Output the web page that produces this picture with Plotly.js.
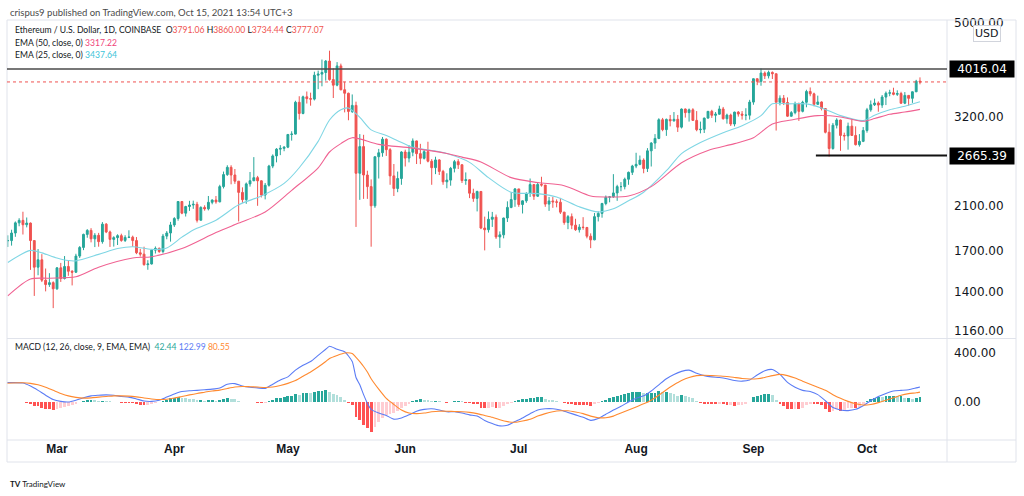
<!DOCTYPE html>
<html><head><meta charset="utf-8">
<script src="https://cdn.plot.ly/plotly-3.0.1.min.js"></script>
<style>html,body{margin:0;padding:0;background:#fff;}#chart{width:1024px;height:496px;}</style>
</head><body><div id="chart"></div>
<script>
// ---- Daily candles, ETH/USD (Coinbase), first bar 2021-02-14 ----
const firstDay = '2021-02-14';
const openP = [
1815,1800,1780,1781,1846,1937,1960,1920,1935,1781,1570,1626,1476,1446,1459,
1417,1565,1488,1575,1540,1533,1655,1724,1834,1869,1796,1826,1772,1925,1855,1791,1806,1823,1782,1808,1810,1781,1681,1670,1589,1594,1702,1716,1691,1819,1846,
1918,1977,2143,2028,2093,2108,2115,1961,2084,2070,2135,2158,2140,2300,2435,2520,2430,2360,2238,2162,2330,2365,2400,2364,2210,2315,2535,2660,2747,2757,
2773,2945,2950,3430,3253,3520,3490,3482,3900,3920,3950,4170,3820,3720,4075,3640,3580,3285,3380,2450,2780,2430,2300,2100,2650,2700,2880,2740,2420,2280,2390,
2710,2633,2707,2856,2689,2630,2714,2594,2516,2610,2472,2353,2372,2508,2589,2551,2367,2376,2229,2175,2248,1890,1875,1970,1990,1812,1830,1982,2084,2163,
2275,2113,2150,2226,2322,2198,2324,2317,2117,2149,2140,2136,2038,1940,1995,1916,1875,1898,1895,1818,1787,1995,2026,2123,2187,2191,2232,2300,2300,2382,2461,
2535,2556,2608,2506,2725,2827,2890,3158,3013,3163,3141,3164,3049,3322,3266,3310,3148,3012,3018,3182,3286,3225,3242,3323,3173,3228,3094,3274,3244,3226,3227,
3433,3835,3788,3940,3888,3952,3927,3430,3497,3427,3211,3266,3410,3286,3430,3610,3570,3397,3435,3330,2976,2755,3077,3154,2931,2925,3063,2931,2806,2850,
3001,3310,3390,3418,3385,3516,3580,3588,3562,3575,3415,3544,3495,3605,3791.06];
const highP = [
1838,1825,1826,1875,1950,1980,2042,1987,1940,1781,1711,1670,1560,1526,1468,
1571,1602,1655,1622,1548,1673,1735,1840,1880,1889,1845,1847,1944,1935,1867,1818,1835,1840,1827,1870,1823,1811,1713,1730,1623,1711,1732,1724,1838,1863,1946,
1990,2145,2145,2100,2150,2152,2140,2095,2105,2200,2165,2200,2320,2470,2545,2545,2500,2360,2292,2345,2465,2645,2420,2370,2340,2550,2680,2760,2800,2785,
2950,2990,3455,3530,3540,3610,3590,3965,3985,4200,4190,4380,4030,4150,4120,3780,3590,3560,3440,2950,2940,2480,2380,2650,2750,2910,2890,2760,2560,2470,2720,
2740,2800,2890,2860,2817,2743,2845,2620,2650,2620,2490,2450,2525,2610,2620,2556,2460,2380,2277,2255,2250,1995,2045,2040,2015,1860,1985,2145,2240,2285,
2275,2155,2240,2390,2323,2350,2410,2318,2190,2190,2165,2180,2040,2010,2025,1975,1925,1990,1900,1843,2030,2045,2130,2205,2200,2440,2320,2350,2400,2470,2550,
2700,2665,2630,2760,2840,2950,3180,3185,3175,3230,3275,3230,3330,3330,3330,3335,3290,3130,3190,3290,3310,3275,3375,3355,3250,3250,3280,3290,3290,3335,3470,
3840,3840,4027,3970,3985,3970,3927,3545,3550,3510,3290,3440,3425,3455,3640,3680,3590,3540,3445,3330,3100,3110,3180,3160,2970,3115,3165,3060,2950,3050,
3340,3460,3490,3445,3550,3610,3640,3675,3630,3605,3600,3545,3610,3815,3860];
const lowP = [
1760,1658,1728,1739,1813,1906,1833,1896,1550,1370,1511,1463,1400,1430,1293,
1410,1464,1481,1507,1440,1528,1640,1702,1805,1766,1727,1730,1755,1845,1728,1731,1744,1771,1769,1802,1730,1670,1651,1581,1551,1590,1675,1680,1676,1792,1772,
1900,1957,2018,1996,2050,2070,1940,1960,2052,2055,2115,2121,2135,2280,2420,2325,2330,1950,2130,2120,2300,2360,2100,2185,2165,2300,2510,2580,2670,2720,
2760,2860,2945,3160,3240,3410,3375,3460,3650,3700,3800,3800,3500,3700,3630,3270,3150,3260,1900,2160,2170,2170,1730,2080,2390,2650,2660,2320,2200,2240,2320,
2530,2580,2656,2560,2558,2616,2580,2320,2440,2430,2320,2282,2310,2460,2500,2340,2320,2178,2140,2045,1880,1700,1850,1900,1795,1720,1800,1945,2076,2090,
2090,2025,2130,2190,2160,2190,2300,2090,2050,2080,2085,2020,1920,1880,1880,1865,1850,1875,1800,1718,1784,1950,1985,2105,2135,2180,2150,2250,2270,2320,2430,
2510,2545,2450,2465,2530,2750,2880,2990,2925,3060,3130,2980,3030,3190,3130,3145,2990,2960,2965,3175,3185,3120,3235,3160,3100,3065,3060,3205,3160,3150,3160,
3390,3720,3710,3830,3840,3830,3000,3380,3385,3200,3205,3240,3140,3270,3350,3530,3365,3385,3300,2960,2652,2740,3030,2725,2860,2740,2925,2795,2780,2840,
2970,3280,3370,3280,3340,3385,3530,3545,3535,3405,3400,3375,3420,3600,3734.44];
const closeP = [
1800,1780,1781,1846,1937,1960,1920,1935,1781,1570,1626,1476,1446,1459,1417,
1565,1488,1575,1540,1533,1655,1724,1834,1869,1796,1826,1772,1925,1855,1791,1806,1823,1782,1808,1810,1781,1681,1670,1589,1594,1702,1716,1691,1819,1846,1918,
1977,2143,2028,2093,2108,2115,1961,2084,2070,2135,2158,2140,2300,2435,2520,2430,2360,2238,2162,2330,2365,2400,2364,2210,2315,2535,2660,2747,2757,2773,
2945,2950,3430,3253,3520,3490,3482,3900,3920,3950,4170,3820,3720,4075,3640,3580,3285,3380,2450,2780,2430,2300,2100,2650,2700,2880,2740,2420,2280,2390,2710,
2633,2707,2856,2689,2630,2714,2594,2516,2610,2472,2353,2372,2508,2589,2551,2367,2376,2229,2175,2248,1890,1875,1970,1990,1812,1830,1982,2084,2163,2275,
2113,2150,2226,2322,2198,2324,2317,2117,2149,2140,2136,2038,1940,1995,1916,1875,1898,1895,1818,1787,1995,2026,2123,2187,2191,2232,2300,2300,2382,2461,2535,
2556,2608,2506,2725,2827,2890,3158,3013,3163,3141,3164,3049,3322,3266,3310,3148,3012,3018,3182,3286,3225,3242,3323,3173,3228,3094,3274,3244,3226,3227,3433,
3835,3788,3940,3888,3952,3927,3430,3497,3427,3211,3266,3410,3286,3430,3610,3570,3397,3435,3330,2976,2755,3077,3154,2931,2925,3063,2931,2806,2850,3001,
3310,3390,3418,3385,3516,3580,3588,3562,3575,3415,3544,3495,3605,3790,3777.07];

// ---- MACD histogram, one value per bar ----
const macdHist = [
10,5,0,0,2,2,-3,-5,-15,-30,-35,-50,-55,-60,-62,
-55,-50,-40,-35,-25,-15,0,10,15,18,15,12,12,8,5,2,-2,-5,-7,-10,-12,-18,-22,-25,-22,-15,-8,0,10,20,30,
35,40,35,32,28,25,15,15,12,13,13,12,18,25,30,28,22,12,3,2,0,-2,-5,-10,-5,10,20,30,35,38,
45,45,65,60,70,72,70,85,90,90,95,85,65,60,40,20,-5,-25,-120,-150,-190,-215,-245,-200,-165,-130,-110,-100,-90,-70,-45,
-30,-15,5,15,25,20,15,10,12,5,-2,-5,2,8,10,5,-5,-10,-18,-20,-45,-50,-45,-40,-48,-45,-32,-20,-8,8,
15,22,28,35,35,40,40,25,20,15,10,0,-12,-15,-20,-25,-25,-25,-27,-30,-20,-10,5,20,30,40,50,55,62,70,78,
78,80,70,72,75,75,90,80,80,70,62,48,55,45,42,30,10,-5,-15,-15,-18,-20,-18,-20,-28,-25,-35,-25,-22,-20,0,
40,50,60,65,68,60,15,-15,-35,-55,-60,-55,-55,-45,-25,-15,-20,-20,-25,-55,-80,-70,-60,-70,-62,-50,-48,-50,-40,-20,
10,25,35,40,38,45,48,48,45,45,30,35,28,32,42.44];

// ---- EMA lines, read at sample dates ----
const ema25Dates = ['2021-02-16','2021-02-22','2021-02-25','2021-03-01','2021-03-04','2021-03-06','2021-03-12','2021-03-17','2021-03-21','2021-03-26','2021-03-30',
'2021-04-03','2021-04-06','2021-04-12','2021-04-18','2021-04-24','2021-04-30','2021-05-04','2021-05-09','2021-05-12','2021-05-15','2021-05-17','2021-05-20','2021-05-23','2021-05-27','2021-05-30',
'2021-06-03','2021-06-08','2021-06-12','2021-06-18','2021-06-23','2021-06-29','2021-07-06','2021-07-11','2021-07-17','2021-07-22','2021-07-26','2021-07-30',
'2021-08-03','2021-08-09','2021-08-13','2021-08-18','2021-08-24','2021-08-29','2021-09-03','2021-09-06','2021-09-10','2021-09-15','2021-09-19','2021-09-24','2021-09-30',
'2021-10-03','2021-10-07','2021-10-11','2021-10-15'];
const ema25 = [1605,1700,1680,1640,1620,1618,1668,1715,1730,1708,1720,
1810,1873,1962,2110,2200,2335,2515,2850,3154,3310,3338,3193,3010,2930,2860,
2770,2730,2690,2580,2400,2240,2225,2190,2090,2040,2070,2150,
2240,2480,2690,2835,2970,3070,3220,3405,3405,3405,3340,3220,3145,
3225,3310,3365,3437.64];
const ema50Dates = ['2021-02-16','2021-02-22','2021-02-27','2021-03-06','2021-03-12','2021-03-21','2021-03-26','2021-04-03','2021-04-12','2021-04-18','2021-04-25',
'2021-05-02','2021-05-09','2021-05-12','2021-05-15','2021-05-18','2021-05-25','2021-06-03','2021-06-12','2021-06-16','2021-06-21','2021-06-29',
'2021-07-06','2021-07-13','2021-07-20','2021-07-24','2021-07-30','2021-08-05','2021-08-13','2021-08-20','2021-08-27',
'2021-09-01','2021-09-06','2021-09-11','2021-09-18','2021-09-24','2021-09-30','2021-10-03','2021-10-07','2021-10-11','2021-10-15'];
const ema50 = [1370,1484,1490,1500,1570,1640,1650,1715,1850,1935,2040,
2260,2515,2710,2820,2900,2810,2760,2690,2645,2585,2400,
2345,2310,2200,2190,2200,2300,2575,2730,2820,
2900,3095,3155,3220,3200,3135,3175,3240,3275,3317.22];

// ---- MACD and signal lines, read at sample dates ----
const macdDates = ['2021-02-14','2021-02-17','2021-02-20','2021-02-22','2021-02-24','2021-02-26','2021-02-28',
'2021-03-02','2021-03-04','2021-03-06','2021-03-08','2021-03-10','2021-03-12','2021-03-14','2021-03-16','2021-03-18','2021-03-20','2021-03-22','2021-03-24','2021-03-26','2021-03-28','2021-03-30',
'2021-04-01','2021-04-03','2021-04-05','2021-04-07','2021-04-09','2021-04-11','2021-04-13','2021-04-15','2021-04-17','2021-04-19','2021-04-21','2021-04-23','2021-04-25','2021-04-27','2021-04-29',
'2021-05-01','2021-05-03','2021-05-05','2021-05-07','2021-05-09','2021-05-11','2021-05-12','2021-05-14','2021-05-16','2021-05-18','2021-05-19','2021-05-20','2021-05-21','2021-05-22','2021-05-23','2021-05-25','2021-05-27','2021-05-29','2021-05-31',
'2021-06-02','2021-06-04','2021-06-06','2021-06-08','2021-06-10','2021-06-12','2021-06-14','2021-06-16','2021-06-18','2021-06-20','2021-06-22','2021-06-24','2021-06-26','2021-06-28','2021-06-30',
'2021-07-02','2021-07-04','2021-07-06','2021-07-08','2021-07-10','2021-07-12','2021-07-14','2021-07-16','2021-07-18','2021-07-20','2021-07-22','2021-07-24','2021-07-26','2021-07-28','2021-07-30',
'2021-08-01','2021-08-03','2021-08-05','2021-08-07','2021-08-09','2021-08-11','2021-08-13','2021-08-15','2021-08-17','2021-08-19','2021-08-21','2021-08-23','2021-08-25','2021-08-27','2021-08-29','2021-08-31',
'2021-09-02','2021-09-04','2021-09-06','2021-09-08','2021-09-10','2021-09-12','2021-09-14','2021-09-16','2021-09-18','2021-09-20','2021-09-22','2021-09-24','2021-09-26','2021-09-28','2021-09-30',
'2021-10-02','2021-10-04','2021-10-06','2021-10-08','2021-10-10','2021-10-12','2021-10-14','2021-10-15'];
const macdLine = [160,158,155,130,95,55,20,
5,0,15,35,50,55,58,55,45,40,25,8,5,15,40,
65,85,92,95,100,105,115,145,150,130,120,115,110,145,180,
205,260,300,330,380,430,455,430,410,330,200,140,60,-10,-60,-90,-110,-140,-130,
-105,-75,-60,-55,-65,-80,-80,-90,-105,-115,-150,-175,-195,-190,-160,
-130,-95,-65,-55,-55,-65,-85,-105,-125,-150,-135,-100,-65,-35,0,
30,50,90,140,190,225,250,260,235,215,205,200,190,175,170,180,
220,255,265,225,160,120,95,85,60,10,-45,-65,-70,-60,-30,
10,45,70,90,95,100,115,122.99];
const signalLine = [150,155,157,152,140,120,95,
70,50,38,32,34,40,45,50,50,48,42,33,25,20,23,
32,45,58,70,80,90,97,110,122,127,125,122,118,122,135,
152,175,210,245,285,330,355,380,400,395,365,330,290,245,190,105,30,-20,-65,
-90,-95,-90,-80,-75,-75,-78,-80,-85,-95,-110,-125,-145,-160,-165,
-155,-140,-115,-95,-80,-72,-72,-82,-95,-115,-128,-128,-115,-90,-65,
-40,-15,15,55,100,140,175,200,215,218,215,212,208,200,192,188,
190,200,215,225,215,195,170,145,120,95,60,30,5,-15,-25,
-20,-5,15,35,55,68,75,80.55];

const monthTicks = ['2021-03-01','2021-04-01','2021-05-01','2021-06-01','2021-07-01','2021-08-01','2021-09-01','2021-10-01'];
const monthLabels = ['Mar','Apr','May','Jun','Jul','Aug','Sep','Oct'];
const priceTicks = [1160,1400,1700,2100,3200,5000];
const macdTicks = [0,400];
const keyLevels = [4016.04, 2665.39];
const lastClose = 3777.07;

// ---- build ----
function dayList(start, n){
  const out=[]; const t0=Date.parse(start+'T00:00:00Z');
  for(let i=0;i<n;i++) out.push(new Date(t0+i*86400000).toISOString().slice(0,10));
  return out;
}
const dates = dayList(firstDay, closeP.length);
const histColors = macdHist.map((v,i)=>{
  const p = i>0 ? macdHist[i-1] : v;
  if (v>=0) return v>=p ? '#26a69a' : '#b2dfdb';
  return v<=p ? '#ff5252' : '#ffcdd2';
});

const ML=7, MT=20, PW=940, PH=420;
const px = x => (x-ML)/PW;
const py = y => 1-(y-MT)/PH;
const SPLIT = py(338.5);
const FONT = 'Liberation Sans, Arial, sans-serif';
const NARROW = 'Lato, Liberation Sans, sans-serif';
const AXFONT = 'DejaVu Sans, Verdana, sans-serif';
const LEG = 8.6;

const traces = [
 {type:'candlestick', x:dates, open:openP, high:highP, low:lowP, close:closeP, xaxis:'x', yaxis:'y',
  increasing:{line:{color:'#26a69a',width:1}, fillcolor:'#26a69a'},
  decreasing:{line:{color:'#ef5350',width:1}, fillcolor:'#ef5350'},
  whiskerwidth:0, hoverinfo:'skip', showlegend:false},
 {type:'scatter', mode:'lines', x:ema25Dates, y:ema25, xaxis:'x', yaxis:'y', line:{color:'#7fd6e4',width:1.1,shape:'spline',smoothing:0.8}, hoverinfo:'skip', showlegend:false},
 {type:'scatter', mode:'lines', x:ema50Dates, y:ema50, xaxis:'x', yaxis:'y', line:{color:'#f06292',width:1.1,shape:'spline',smoothing:0.8}, hoverinfo:'skip', showlegend:false},
 {type:'bar', x:dates, y:macdHist, xaxis:'x', yaxis:'y2', marker:{color:histColors, line:{width:0}}, width:0.74*86400000, hoverinfo:'skip', showlegend:false},
 {type:'scatter', mode:'lines', x:macdDates, y:macdLine, xaxis:'x', yaxis:'y2', line:{color:'#5b7cf5',width:1.1,shape:'spline',smoothing:0.6}, hoverinfo:'skip', showlegend:false},
 {type:'scatter', mode:'lines', x:macdDates, y:signalLine, xaxis:'x', yaxis:'y2', line:{color:'#ff8a30',width:1.1,shape:'spline',smoothing:0.6}, hoverinfo:'skip', showlegend:false}
];

const fmt = v => v.toFixed(2);
const red = s => `<span style="color:#ef5350">${s}</span>`;
const annotations = [
 {xref:'paper',yref:'paper',x:px(8),y:py(12),xanchor:'left',yanchor:'middle',showarrow:false,
  text:'crispus9 published on TradingView.com, Oct 15, 2021 13:54 UTC+3',font:{family:NARROW,size:9.5,color:'#4a4a4a'}},
 {xref:'paper',yref:'paper',x:px(13),y:py(30),xanchor:'left',yanchor:'middle',showarrow:false,
  text:'Ethereum / U.S. Dollar, 1D, COINBASE  O'+red('3791.06')+' H'+red('3860.00')+' L'+red('3734.44')+' C'+red('3777.07'),font:{family:NARROW,size:LEG,color:'#131722'}},
 {xref:'paper',yref:'paper',x:px(13),y:py(43),xanchor:'left',yanchor:'middle',showarrow:false,
  text:'EMA (50, close, 0) <span style="color:#f0457a">3317.22</span>',font:{family:NARROW,size:LEG,color:'#131722'}},
 {xref:'paper',yref:'paper',x:px(13),y:py(55),xanchor:'left',yanchor:'middle',showarrow:false,
  text:'EMA (25, close, 0) <span style="color:#3cc4d8">3437.64</span>',font:{family:NARROW,size:LEG,color:'#131722'}},
 {xref:'paper',yref:'paper',x:px(13),y:py(347),xanchor:'left',yanchor:'middle',showarrow:false,
  text:'MACD (12, 26, close, 9, EMA, EMA)  <span style="color:#26a69a">42.44</span> <span style="color:#5b7cf5">122.99</span> <span style="color:#ff8a30">80.55</span>',font:{family:NARROW,size:LEG,color:'#131722'}},
 {xref:'paper',yref:'paper',x:px(8),y:py(484),xanchor:'left',yanchor:'middle',showarrow:false,
  text:'<b>TV</b> TradingView',font:{family:NARROW,size:8,color:'#131722'}},
 {xref:'paper',yref:'paper',x:px(987),y:py(33),xanchor:'center',yanchor:'middle',showarrow:false,
  text:'USD',font:{family:AXFONT,size:11,color:'#131722'},bgcolor:'#ffffff',bordercolor:'#d1d4dc',borderwidth:1,borderpad:1}
];
keyLevels.forEach(v=>{
  annotations.push({xref:'paper',yref:'y',x:px(949),y:Math.log10(v),xanchor:'left',yanchor:'middle',showarrow:false,
    text:fmt(v),font:{family:AXFONT,size:12,color:'#ffffff'},bgcolor:'#000000',width:62,height:14,borderpad:1,align:'center'});
});

const frame = '#e0e3eb';
const shapes = [
 {type:'rect',xref:'paper',yref:'paper',x0:px(7),x1:px(1016),y0:py(20),y1:py(462),line:{color:frame,width:1}},
 {type:'line',xref:'paper',yref:'paper',x0:1,x1:1,y0:py(20),y1:py(462),line:{color:frame,width:1}},
 {type:'line',xref:'paper',yref:'paper',x0:0,x1:px(1016),y0:SPLIT,y1:SPLIT,line:{color:frame,width:1}},
 {type:'line',xref:'paper',yref:'paper',x0:0,x1:px(1016),y0:0,y1:0,line:{color:frame,width:1}},
 {type:'line',xref:'paper',yref:'y',x0:0,x1:1,y0:lastClose,y1:lastClose,line:{color:'#ef5350',width:1,dash:'dot'}},
 {type:'line',xref:'paper',yref:'y',x0:0,x1:1,y0:keyLevels[0],y1:keyLevels[0],line:{color:'#4a4a4a',width:1.5}},
 {type:'line',xref:'x',yref:'y',x0:'2021-09-17 12:00',x1:'2021-10-22 03:20',y0:keyLevels[1],y1:keyLevels[1],line:{color:'#111111',width:2}}
];

const layout = {
  width:1024, height:496, margin:{l:ML,r:1024-ML-PW,t:MT,b:496-MT-PH},
  paper_bgcolor:'#ffffff', plot_bgcolor:'#ffffff', showlegend:false, bargap:0,
  xaxis:{type:'date', range:['2021-02-15 19:00','2021-10-22 03:20'], anchor:'y2', domain:[0,1],
    tickvals:monthTicks, ticktext:monthLabels, ticks:'', showgrid:false, zeroline:false, showline:false,
    tickfont:{family:FONT,size:12,color:'#131722',weight:'bold'}, rangeslider:{visible:false}, fixedrange:true},
  yaxis:{type:'log', domain:[SPLIT,1], range:[Math.log10(1119.7),Math.log10(5066)], side:'right', anchor:'x',
    tickvals:priceTicks, ticktext:priceTicks.map(fmt), ticks:'', showgrid:false, zeroline:false, showline:false,
    ticklabelstandoff:6, tickfont:{family:AXFONT,size:12,color:'#131722'}, fixedrange:true},
  yaxis2:{domain:[0,SPLIT], range:[-310,518], side:'right', anchor:'x',
    tickvals:macdTicks, ticktext:macdTicks.map(fmt), ticks:'', showgrid:false, zeroline:false, showline:false,
    ticklabelstandoff:6, tickfont:{family:AXFONT,size:12,color:'#131722'}, fixedrange:true},
  annotations:annotations, shapes:shapes
};
Plotly.newPlot('chart', traces, layout, {staticPlot:true, displayModeBar:false});
</script>
</body></html>
